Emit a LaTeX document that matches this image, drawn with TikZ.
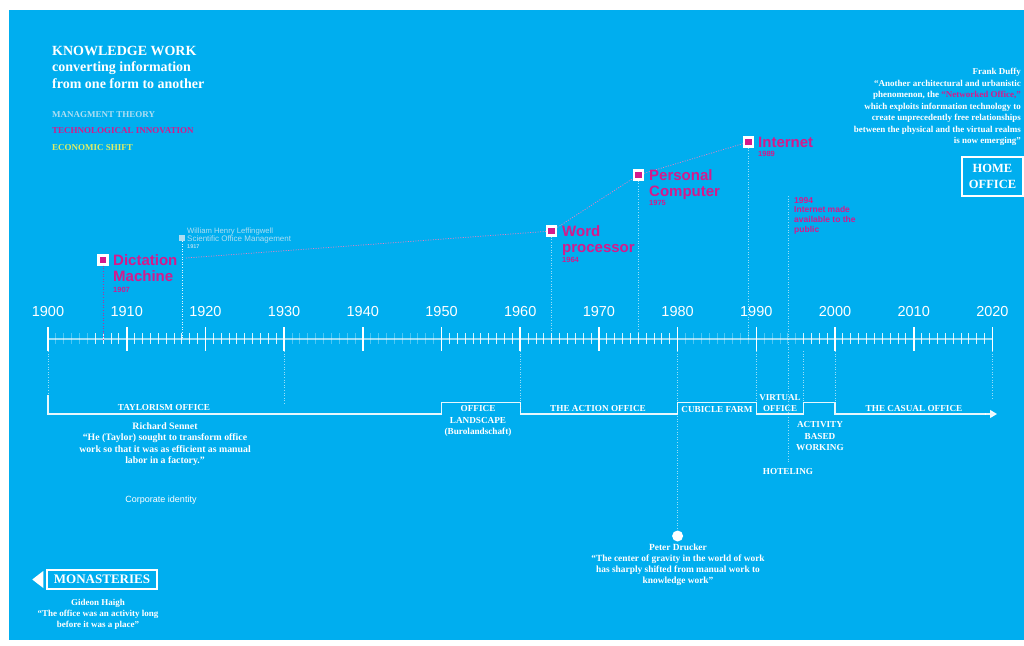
\documentclass[tikz,border=0pt]{standalone}
\usepackage{fontspec}
\setmainfont{Liberation Serif}
\setsansfont{Liberation Sans}
\usetikzlibrary{arrows.meta}
\definecolor{bg}{RGB}{0,174,239}
\definecolor{mag}{RGB}{213,26,140}
\definecolor{pale}{RGB}{175,222,242}
\definecolor{yel}{RGB}{225,238,100}
\begin{document}
\begin{tikzpicture}[x=1pt,y=-1pt,
  serifb/.style={font=\bfseries\fontsize{9}{11}\selectfont, text=white, inner sep=0, align=center},
  perlab/.style={font=\bfseries\fontsize{9.2}{11.5}\selectfont, text=white, inner sep=0, align=center},
  legend/.style={font=\bfseries\fontsize{9}{10}\selectfont, inner sep=0, anchor=base west},
  techlab/.style={font=\sffamily\bfseries\fontsize{15}{16}\selectfont, text=mag, inner sep=0, align=left, anchor=north west},
  techyear/.style={font=\sffamily\bfseries\fontsize{7.5}{8}\selectfont, text=mag, inner sep=0, anchor=base west},
  yearlab/.style={font=\sffamily\fontsize{14.5}{15}\selectfont, text=white, inner sep=0, anchor=base},
  mk/.style={rectangle, fill=mag, draw=white, line width=2.4pt, minimum size=9pt, inner sep=0},
  major/.style={draw=white, line width=1.6pt},
  minorb/.style={draw=white, line width=0.8pt, opacity=0.85},
  minorf/.style={draw=white, line width=0.8pt, opacity=0.3},
  vdot/.style={draw=white, dotted, line width=0.6pt, opacity=0.6},
  vdotm/.style={draw=mag, dotted, line width=0.6pt, opacity=0.8},
  link/.style={draw=mag!55!white, line width=0.75pt, dash pattern=on 1pt off 1.5pt},
  bracket/.style={draw=white, line width=1.1pt, opacity=0.9},
  boxlab/.style={draw=white, line width=1.5pt, text=white, font=\bfseries\fontsize{12.5}{16}\selectfont, align=center, inner sep=0}
]
\useasboundingbox (0,0) rectangle (1024,645);
\fill[white] (0,0) rectangle (1024,645);
\fill[bg] (9,10) rectangle (1024,640);

% ---------- header ----------
\node[font=\bfseries\fontsize{14}{16.5}\selectfont, text=white, inner sep=0, align=left, anchor=north west] (kw) at (52,46)
  {KNOWLEDGE WORK\\converting information\\from one form to another};
\node[legend, text=pale] (lg1) at (52,117) {MANAGMENT THEORY};
\node[legend, text=mag] (lg2) at (52,133.5) {TECHNOLOGICAL INNOVATION};
\node[legend, text=yel] (lg3) at (52,150.5) {ECONOMIC SHIFT};

% ---------- Frank Duffy ----------
\node[font=\bfseries\fontsize{9}{11.5}\selectfont, text=white, inner sep=0, align=right, anchor=north east] (duffy) at (1021,68)
  {Frank Duffy\\“Another architectural and urbanistic\\phenomenon, the \textcolor{mag}{“Networked Office,”}\\which exploits information technology to\\create unprecedently free relationships\\between the physical and the virtual realms\\is now emerging”};
\node[boxlab, minimum width=61pt, minimum height=39pt] (home) at (992.5,176.5) {HOME\\OFFICE};

% ---------- axis ----------
\coordinate (a0) at (48,339);
\coordinate (a1) at (992.4,339);
\draw[draw=white, line width=1.2pt, opacity=0.6] (a0) -- (a1);
\foreach \a/\b in {1901/1905,1931/1939,1941/1949,1981/1989,1991/1995} {
  \foreach \yr in {\a,...,\b} {
    \pgfmathsetmacro\xx{48+(\yr-1900)*7.87}
    \draw[minorf] (\xx,333) -- (\xx,344);
  }
}
\foreach \a/\b in {1906/1909,1911/1919,1921/1929,1951/1959,1961/1969,1971/1979,1996/1999,2001/2009,2011/2019} {
  \foreach \yr in {\a,...,\b} {
    \pgfmathsetmacro\xx{48+(\yr-1900)*7.87}
    \draw[minorb] (\xx,333) -- (\xx,344);
  }
}
\foreach \yr in {1900,1910,...,2020} {
  \pgfmathsetmacro\xx{48+(\yr-1900)*7.87}
  \draw[major] (\xx,327) -- (\xx,351);
  \node[yearlab] (y\yr) at (\xx,316) {\yr};
}

% ---------- technological innovations ----------
\node[mk] (m1907) at (103.1,260) {};
\node[mk] (m1964) at (551.7,231) {};
\node[mk] (m1975) at (638.3,175) {};
\node[mk] (m1989) at (748.4,142) {};
\node[rectangle, fill=pale, minimum size=5.5pt, inner sep=0] (m1917) at (181.8,238) {};

\draw[vdotm] (m1907.south) -- (103.1,339);
\draw[vdot, opacity=0.9] (m1917.south) -- (181.8,339);
\draw[vdot] (m1964.south) -- (551.7,339);
\draw[vdot] (m1975.south) -- (638.3,339);
\draw[vdot] (m1989.south) -- (748.4,339);
\draw[vdot] (787.8,196) -- (787.8,463);

\coordinate (c0) at (186,258);
\draw[link] (c0) -- (m1964) -- (m1975) -- (m1989);

\node[techlab] (t1907) at (113,254.5) {Dictation\\Machine};
\node[techyear] (d1907) at (113,292) {1907};
\node[techlab] (t1964) at (562,225.5) {Word\\processor};
\node[techyear] (d1964) at (562,262) {1964};
\node[techlab] (t1975) at (649,169.5) {Personal\\Computer};
\node[techyear] (d1975) at (649,205) {1975};
\node[techlab] (t1989) at (758,136.5) {Internet};
\node[techyear] (d1989) at (758,156) {1989};
\node[font=\sffamily\bfseries\fontsize{8.5}{9.7}\selectfont, text=mag, inner sep=0, align=left, anchor=north west] (t1994) at (794,197)
  {1994\\Internet made\\available to the\\public};

\node[font=\sffamily\fontsize{7.7}{8}\selectfont, text=pale, inner sep=0, anchor=base west] (lef1) at (187,233) {William Henry Leffingwell};
\node[font=\sffamily\fontsize{8}{8}\selectfont, text=pale, inner sep=0, anchor=base west] (lef2) at (187,241.5) {Scientific Office Management};
\node[font=\sffamily\bfseries\fontsize{5.5}{6}\selectfont, text=pale, inner sep=0, anchor=base west] (lef3) at (187,248) {1917};

% ---------- guide lines below axis ----------
\draw[vdot] (48,351) -- (48,395);
\draw[vdot] (284.1,351) -- (284.1,405);
\draw[vdot] (520.2,351) -- (520.2,414);
\draw[vdot] (756.3,351) -- (756.3,402.5);
\draw[vdot] (803.5,351) -- (803.5,402.5);
\draw[vdot] (835,351) -- (835,402.5);
\draw[vdot] (992.4,351) -- (992.4,400);
\node[circle, fill=white, minimum size=11pt, inner sep=0] (dot) at (677.6,536) {};
\draw[vdot] (677.6,351) -- (dot.north);

% ---------- periods ----------
\draw[bracket] (48,395) -- (48,414) -- (441.5,414) -- (441.5,402.5) -- (520.2,402.5) -- (520.2,414)
  -- (677.6,414) -- (677.6,402.5) -- (756.3,402.5) -- (756.3,414) -- (803.5,414) -- (803.5,402.5)
  -- (835,402.5) -- (835,414) -- (986,414);
\coordinate (arrEnd) at (997,414);
\draw[bracket, -{Triangle[length=7pt,width=8pt]}] (985,414) -- (arrEnd);

\node[perlab, anchor=base] (p1) at (164,410.5) {TAYLORISM OFFICE};
\node[perlab, anchor=north] (p2) at (478,405.5) {OFFICE\\LANDSCAPE\\(Burolandschaft)};
\node[perlab, anchor=base] (p3) at (598,411.5) {THE ACTION OFFICE};
\node[perlab, anchor=base] (p4) at (717,412) {CUBICLE FARM};
\node[perlab, anchor=north, font=\bfseries\fontsize{9}{10.8}\selectfont] (p5) at (780,394.5) {VIRTUAL\\OFFICE};
\node[perlab, anchor=base] (p6) at (914,411.5) {THE CASUAL OFFICE};
\node[perlab, anchor=north] (p7) at (820,421.5) {ACTIVITY\\BASED\\WORKING};
\node[perlab, anchor=base] (p8) at (788,474.5) {HOTELING};

% ---------- quotes ----------
\node[serifb, anchor=north, font=\bfseries\fontsize{9.8}{11.3}\selectfont] (sennett) at (165,422.5)
  {Richard Sennet\\“He (Taylor) sought to transform office\\work so that it was as efficient as manual\\labor in a factory.”};
\node[font=\sffamily\fontsize{9}{9}\selectfont, text=white, inner sep=0, anchor=base] (corp) at (161,502) {Corporate identity};

\node[serifb, anchor=north, font=\bfseries\fontsize{9.4}{11}\selectfont] (drucker) at (678,543.5)
  {Peter Drucker\\“The center of gravity in the world of work\\has sharply shifted from manual work to\\knowledge work”};

\node[boxlab, font=\bfseries\fontsize{13}{14}\selectfont, minimum width=110pt, minimum height=19pt] (mon) at (102,579.5) {MONASTERIES};
\fill[white] ([xshift=-3pt]mon.west) -- ++(0,-8.5) -- ++(-11,8.5) -- ++(11,8.5) -- cycle;
\node[serifb, anchor=north] (haigh) at (98,599)
  {Gideon Haigh\\“The office was an activity long\\before it was a place”};
\end{tikzpicture}
\end{document}
